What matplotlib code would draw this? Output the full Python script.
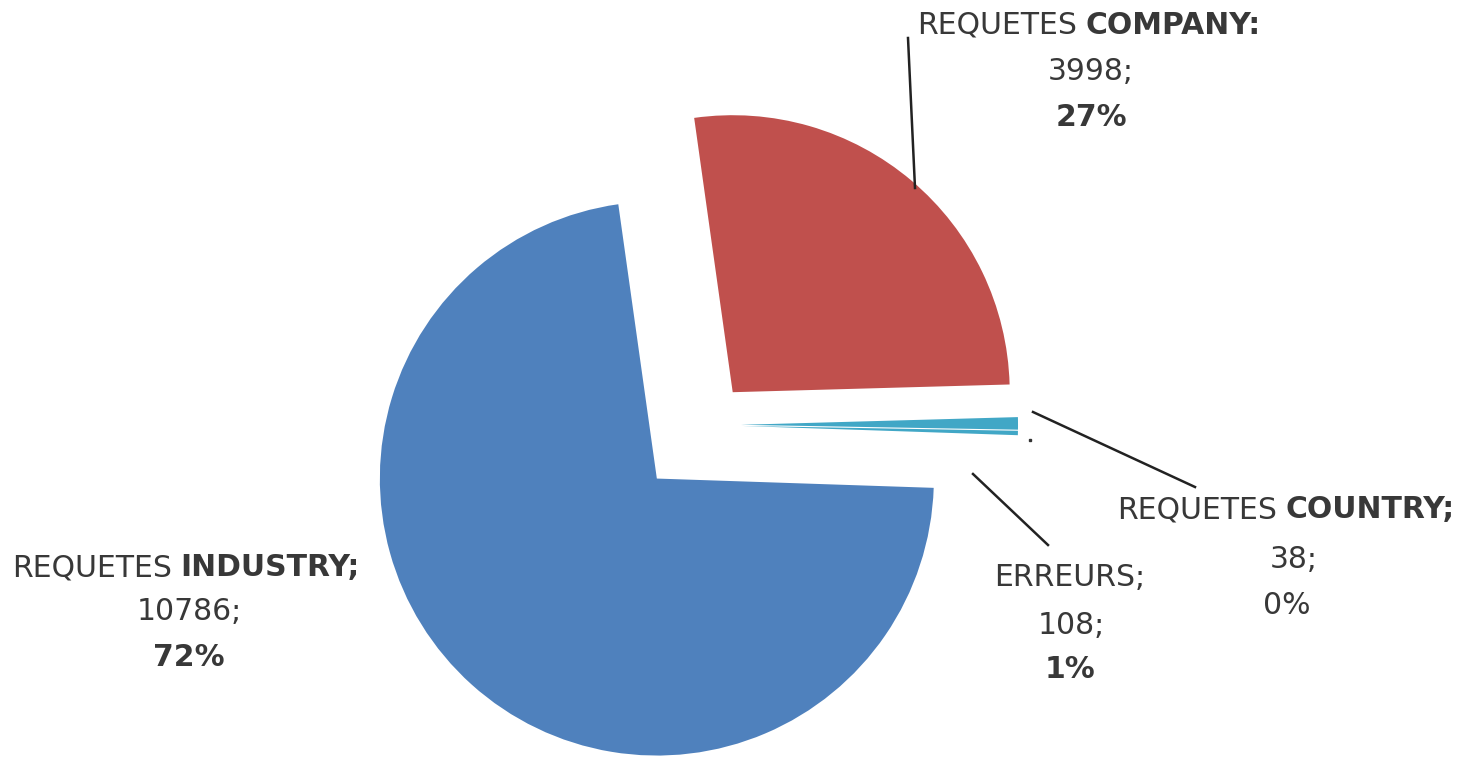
import matplotlib
matplotlib.use("Agg")
import matplotlib.pyplot as plt

# data (order = clockwise from the top)
categories = ["COMPANY", "ERREURS", "COUNTRY", "INDUSTRY"]
values = [3998, 108, 38, 10786]
percents = ["27%", "1%", "0%", "72%"]
colors = ["#c0504d", "#41a7c6", "#41a7c6", "#4f81bd"]
explode = [0.155, 0.13, 0.13, 0.26]

W, H = 1472, 764
R = 277.0          # pie radius in pixels
cx, cy = 705, 425  # pie centre in pixels (from top left)

plt.rcParams['font.family'] = ['DejaVu Sans']
txt_col = "#383838"
fs = 21.5

fig = plt.figure(figsize=(W / 100, H / 100), dpi=100)
ax = fig.add_axes([0, 0, 1, 1])
ax.pie(values, colors=colors, explode=explode, startangle=98, counterclock=False,
       radius=1, wedgeprops=dict(linewidth=0))
ax.set_xlim(-cx / R, (W - cx) / R)
ax.set_ylim(-(H - cy) / R, cy / R)
ax.set_aspect('equal')
ax.axis('off')


def px(x, y):
    return (x / W, 1 - y / H)


def two_part(x, y, first, second, bold_second=True):
    t1 = ax.text(*px(x, y), first, transform=fig.transFigure, ha='left', va='center',
                 fontsize=fs, color=txt_col)
    ax.annotate(second, xy=(1, 0.5), xycoords=t1, xytext=(6, 0), textcoords='offset points',
                ha='left', va='center', fontsize=fs, color=txt_col,
                fontweight='bold' if bold_second else 'normal')


def line(x, y, s, bold=False):
    ax.text(*px(x, y), s, transform=fig.transFigure, ha='center', va='center',
            fontsize=fs, color=txt_col, fontweight='bold' if bold else 'normal')


# company label
two_part(917, 25, "REQUETES", "COMPANY:")
line(1091, 72, f"{values[0]};")
line(1091, 118, percents[0], bold=True)

# industry label
two_part(12, 568, "REQUETES", "INDUSTRY;")
line(189, 612, f"{values[3]};")
line(189, 657, percents[3], bold=True)

# country label
two_part(1117, 510, "REQUETES", "COUNTRY;")
line(1294, 560, f"{values[2]};")
line(1287, 605, percents[2])

# erreurs label
line(1070, 577, f"{categories[1]};")
line(1071, 625, f"{values[1]};")
line(1070, 670, percents[1], bold=True)

# leader lines
leaders = [((908, 38), (915, 188)),
           ((1195, 487), (1033, 412)),
           ((1048, 545), (973, 474))]
for (x0, y0), (x1, y1) in leaders:
    a, b = px(x0, y0), px(x1, y1)
    ax.plot([a[0], b[0]], [a[1], b[1]], transform=fig.transFigure, color="#222222", lw=1.8)
# small dot next to the country slice
d = px(1030, 440)
ax.plot([d[0]], [d[1]], 's', ms=2, color="#333333", transform=fig.transFigure)

fig.savefig("out.png", dpi=100)
